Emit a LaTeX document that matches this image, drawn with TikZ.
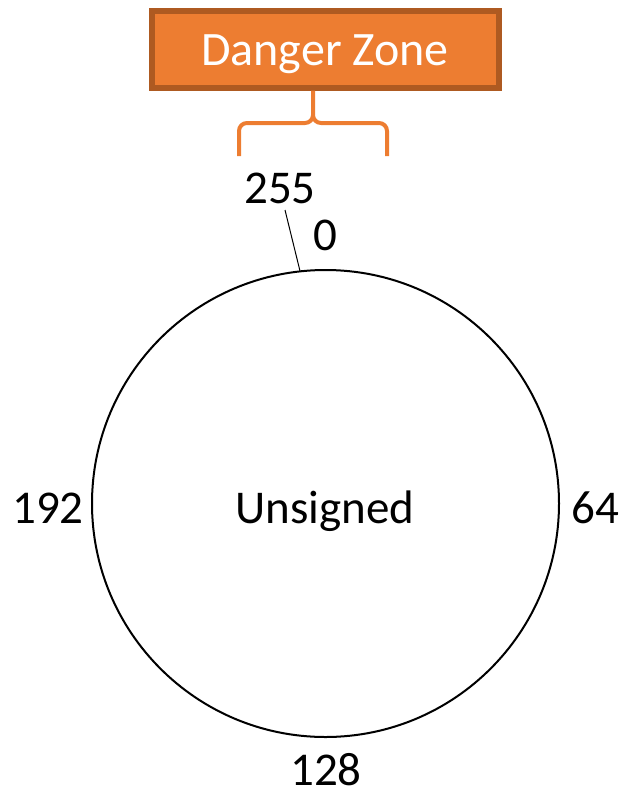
\documentclass[tikz,border=0pt]{standalone}
\usepackage{fontspec}
\setmainfont{Carlito}
\definecolor{dzfill}{HTML}{ED7D31}
\definecolor{dzedge}{HTML}{AE5A21}
\begin{document}
\begin{tikzpicture}[x=1pt,y=-1pt,
  lbl/.style={font=\fontsize{47}{56}\selectfont, inner sep=0pt, text=black, anchor=base},
  dzbox/.style={draw=dzedge, fill=dzfill, line width=6pt, minimum width=347pt, minimum height=77pt, inner sep=0pt}]
\useasboundingbox (0,0) rectangle (623,790);
\node[dzbox] (dz) at (325.5,49) {};
\node[lbl, text=white, font=\fontsize{48}{56}\selectfont] (dztext) at (325,65) {Danger Zone};
\coordinate (bl) at (239,156);
\coordinate (br) at (387,156);
\draw[dzfill, line width=4pt] (bl) -- (239,131) to[out=90,in=180] (247,123) -- (305,123) to[out=0,in=-90] (313,115) -- (dz.south -| 313,0);
\draw[dzfill, line width=4pt] (br) -- (387,131) to[out=90,in=0] (379,123) -- (321,123) to[out=180,in=-90] (313,115);
\node[circle, draw, line width=2pt, minimum size=467pt, inner sep=0pt] (c) at (325.5,503.5) {};
\node[lbl] (unsigned) at (325,523) {Unsigned};
\node[lbl] (n255) at (280,203) {255};
\node[lbl] (n0) at (325,250) {0};
\node[lbl] (n192) at (48,523) {192};
\node[lbl] (n64) at (595,523) {64};
\node[lbl] (n128) at (326,785) {128};
\coordinate (tickend) at (285,210);
\draw[line width=1pt] (tickend) -- (300,271);
\end{tikzpicture}
\end{document}
